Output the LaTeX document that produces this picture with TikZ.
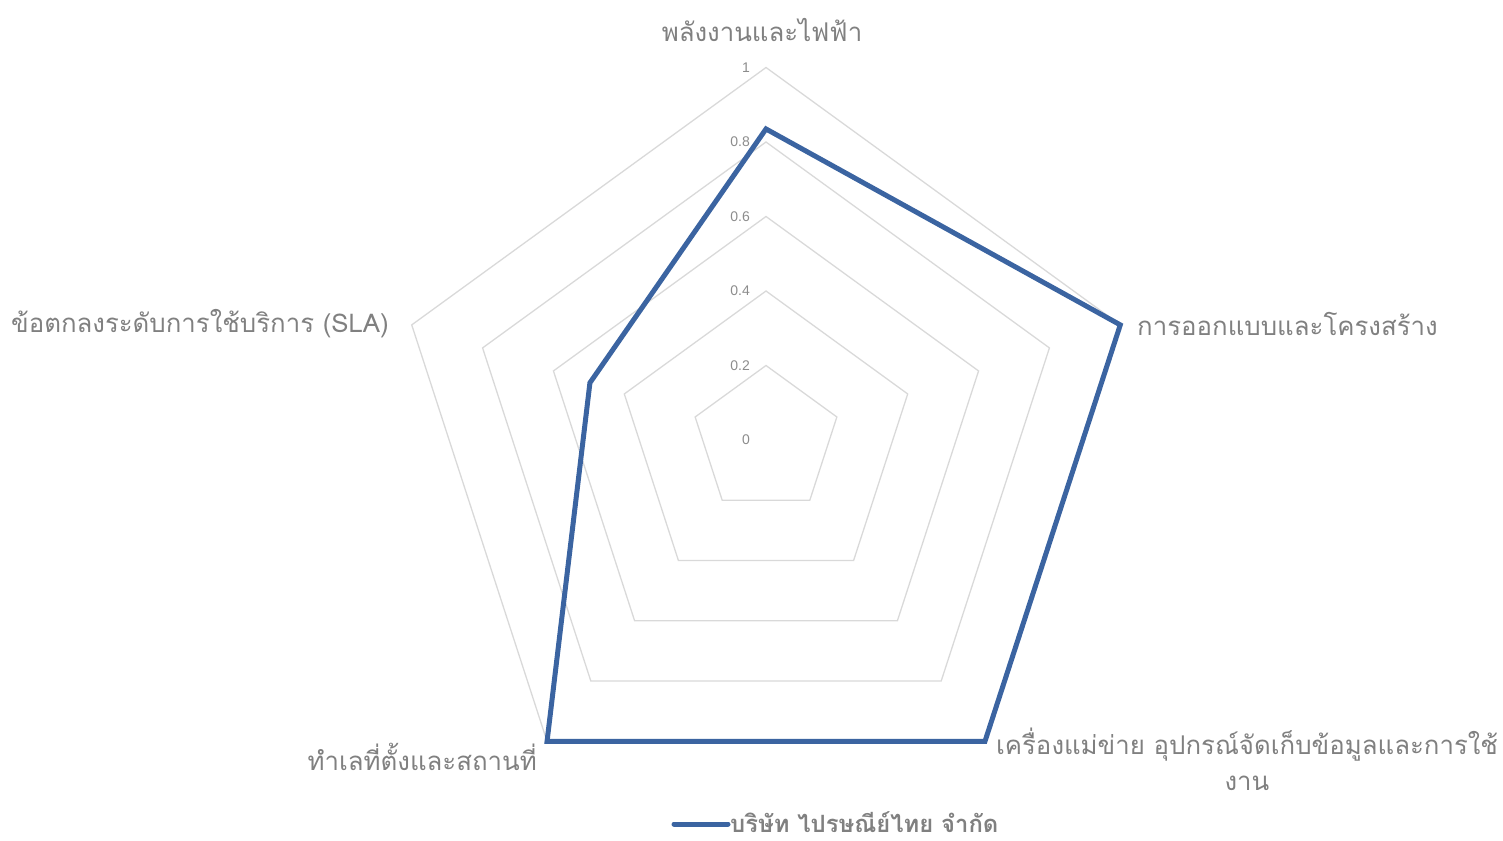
\documentclass[tikz,border=0pt]{standalone}
\usepackage{fontspec}
\usetikzlibrary{calc}
\newfontfamily\thaifont[Script=Thai]{Loma}
\setmainfont{Liberation Sans}
\definecolor{gridc}{RGB}{217,217,217}
\definecolor{labc}{RGB}{128,128,128}
\definecolor{tickc}{RGB}{140,140,140}
\definecolor{serc}{RGB}{59,100,161}
\begin{document}
\begin{tikzpicture}[x=1pt,y=-1pt,
  gridline/.style={draw=gridc,line width=1.3pt},
  axlab/.style={text=labc,font=\thaifont\fontsize{25.8}{30}\selectfont,inner sep=0pt},
  ticklab/.style={text=tickc,font=\fontsize{14}{16}\selectfont,inner sep=0pt,anchor=east},
  series/.style={draw=serc,line width=5pt,line join=miter}]
\useasboundingbox (0,0) rectangle (1503,840);
\coordinate (c) at (766,440);
\def\R{372.5}
% grid pentagons
\foreach \f in {0.2,0.4,0.6,0.8,1.0}{
  \draw[gridline] ($(c)+({\f*\R*cos(90)},{-\f*\R*sin(90)})$)
    -- ($(c)+({\f*\R*cos(18)},{-\f*\R*sin(18)})$)
    -- ($(c)+({\f*\R*cos(-54)},{-\f*\R*sin(-54)})$)
    -- ($(c)+({\f*\R*cos(-126)},{-\f*\R*sin(-126)})$)
    -- ($(c)+({\f*\R*cos(162)},{-\f*\R*sin(162)})$) -- cycle;
}
% tick labels
\foreach \v/\t [count=\i] in {0/0,0.2/0.2,0.4/0.4,0.6/0.6,0.8/0.8,1/1}{
  \node[ticklab] (t\i) at ($(c)+(-16,{-\v*\R})$) {\t};
}
% series points
\coordinate (p1) at ($(c)+(0,{-0.835*\R})$);
\coordinate (p2) at ($(c)+({1.0*\R*cos(18)},{-1.0*\R*sin(18)})$);
\coordinate (p3) at ($(c)+({1.0*\R*cos(54)},{1.0*\R*sin(54)})$);
\coordinate (p4) at ($(c)+({-1.0*\R*cos(54)},{1.0*\R*sin(54)})$);
\coordinate (p5) at ($(c)+({-0.497*\R*cos(18)},{-0.497*\R*sin(18)})$);
\draw[series] (p1) -- (p2) -- (p3) -- (p4) -- (p5) -- cycle;
% axis labels
\node[axlab] (l1) at (762,30) {พลังงานและไฟฟ้า};
\node[axlab,anchor=west] (l2) at (1137,324) {การออกแบบและโครงสร้าง};
\node[axlab,align=center] (l3) at (1247,759) {เครื่องแม่ข่าย อุปกรณ์จัดเก็บข้อมูลและการใช้\\[6pt]งาน};
\node[axlab,anchor=east] (l4) at (537,757) {ทำเลที่ตั้งและสถานที่};
\node[axlab,anchor=east] (l5) at (389,324) {ข้อตกลงระดับการใช้บริการ (SLA)};
% legend
\coordinate (la) at (674,824);
\coordinate (lb) at (728,824);
\draw[series,line cap=round] (la) -- (lb);
\node[axlab,anchor=west,font=\thaifont\bfseries\fontsize{23.8}{28}\selectfont] (leg) at (730,822) {บริษัท ไปรษณีย์ไทย จำกัด};
\end{tikzpicture}
\end{document}
